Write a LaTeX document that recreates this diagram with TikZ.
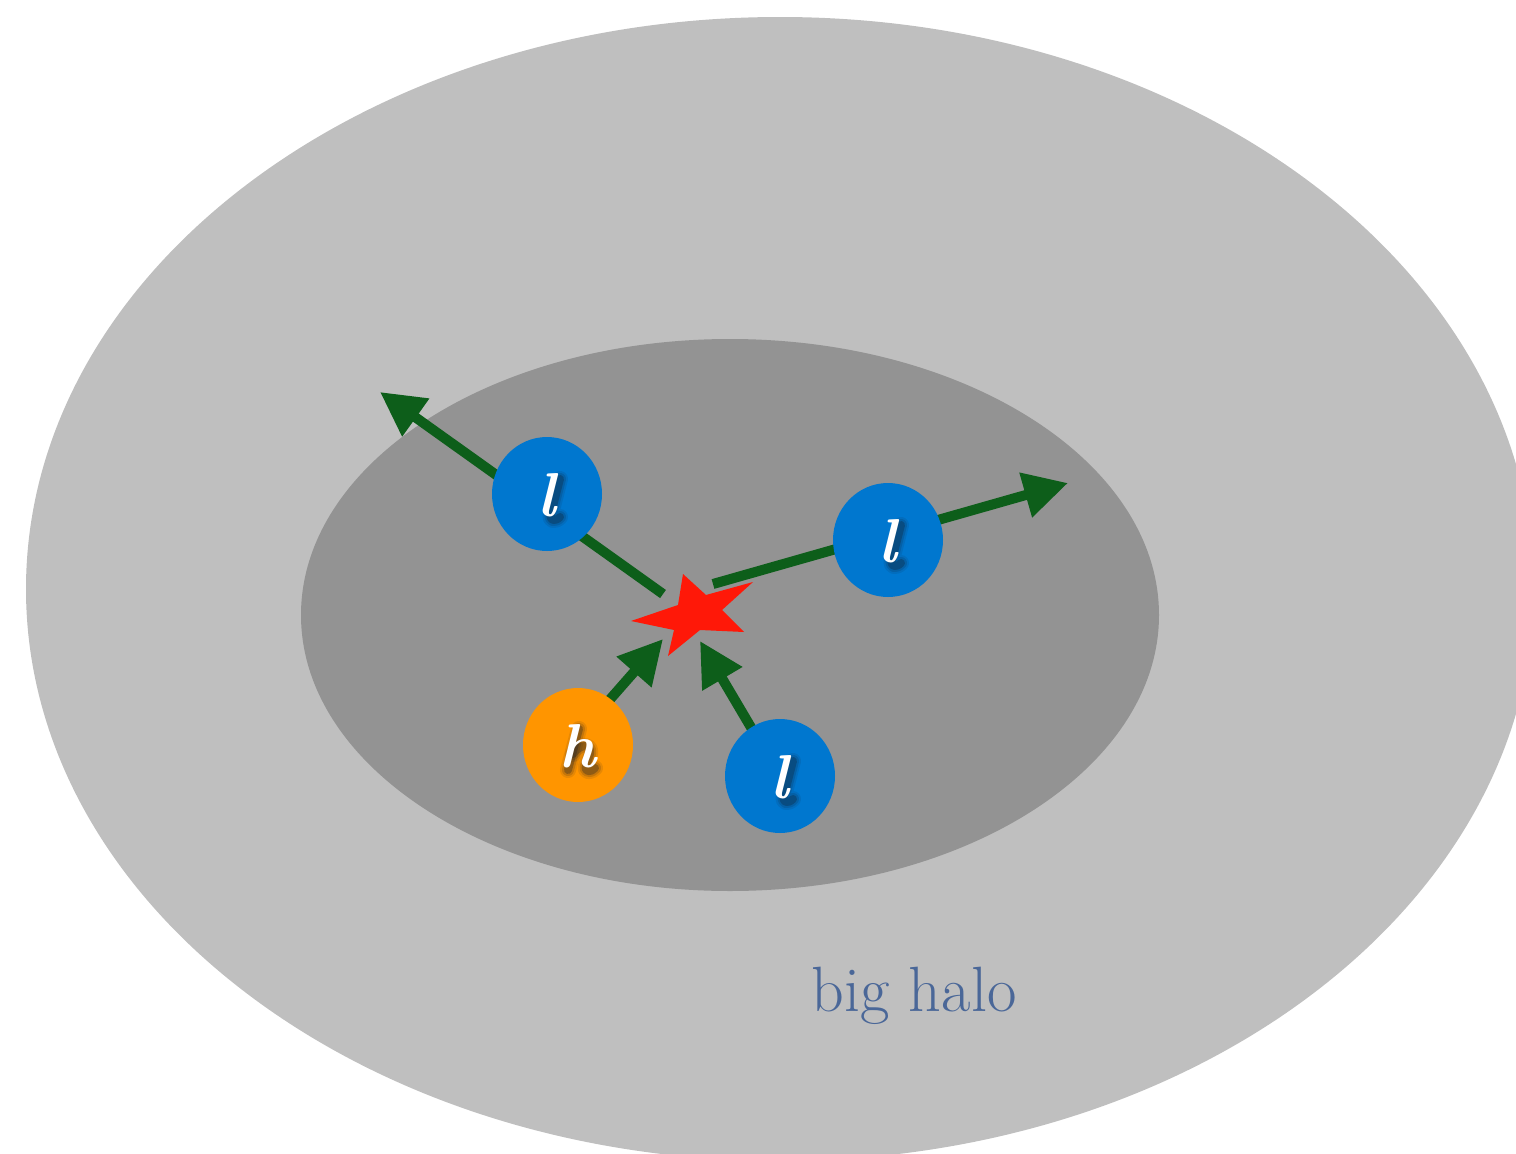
\documentclass[tikz,border=0pt]{standalone}
\usepackage{fontspec}
\usetikzlibrary{arrows.meta,shapes.geometric}

\definecolor{haloOuter}{RGB}{191,191,191}
\definecolor{haloInner}{RGB}{147,147,147}
\definecolor{ballBlue}{RGB}{0,119,207}
\definecolor{ballOrange}{RGB}{255,149,0}
\definecolor{flowGreen}{RGB}{13,94,26}
\definecolor{starRed}{RGB}{255,24,8}
\definecolor{captionBlue}{RGB}{74,103,152}
\definecolor{shadeDark}{RGB}{20,30,45}

\tikzset{
  ball/.style={ellipse, inner sep=0pt, minimum width=110pt, minimum height=114pt, draw=none},
  flow/.style={draw=flowGreen, line width=10pt, -{Triangle[length=44pt,width=44pt]}},
  ballletter/.style={anchor=base, inner sep=0pt, text=white,
    font=\fontsize{62}{62}\selectfont\bfseries\itshape},
  softshade/.style={draw=shadeDark, line cap=round, line join=round},
}

% soft drop shadow: the same stroke drawn wide and faint, then narrow and darker
\newcommand\softstroke[1]{%
  \draw[softshade, line width=16pt, draw opacity=0.10] #1;
  \draw[softshade, line width=12pt, draw opacity=0.16] #1;
  \draw[softshade, line width=8pt,  draw opacity=0.30] #1;
}
\newcommand\shadowL[1]{%
  \begin{scope}[shift={(#1.center)}]
    \softstroke{(13,-15) -- (4,20) .. controls (2,27) and (8,28) .. (13,23)}
  \end{scope}}
\newcommand\shadowH[1]{%
  \begin{scope}[shift={(#1.center)}]
    \softstroke{(1,-16) -- (-10,25)}
    \softstroke{(-5,9) .. controls (2,-1) and (14,-2) .. (12,9) -- (8,21) .. controls (6,27) and (13,28) .. (17,23)}
  \end{scope}}

\begin{document}
\begin{tikzpicture}[x=1pt,y=-1pt]
\useasboundingbox (0,0) rectangle (1516,1154);

% halos
\begin{scope}
  \clip (0,0) rectangle (1516,1154);
  \fill[haloOuter] (780,589) ellipse [x radius=754pt, y radius=572pt];
\end{scope}
\fill[haloInner] (730,615) ellipse [x radius=429pt, y radius=276pt];

% arrow end points
\coordinate (aS) at (663,594);
\coordinate (aT) at (380,392);
\coordinate (bS) at (713,584);
\coordinate (bT) at (1068,483);
\coordinate (cS) at (598,713);
\coordinate (cT) at (663,639);
\coordinate (dS) at (775,768);
\coordinate (dT) at (700,641);

\draw[flow] (aS) -- (aT);
\draw[flow] (bS) -- (bT);
\draw[flow] (cS) -- (cT);
\draw[flow] (dS) -- (dT);

% central star
\coordinate (core) at (692,614);
\fill[starRed] (683,574) -- (706,595) -- (753,582) -- (722,610) -- (744,632)
  -- (700,630) -- (668,656) -- (674,630) -- (631,621) -- (678,605) -- cycle;

% balls
\node[ball, fill=ballBlue]   (lA) at (547,494) {};
\node[ball, fill=ballBlue]   (lB) at (888,540) {};
\node[ball, fill=ballOrange] (hC) at (578,745) {};
\node[ball, fill=ballBlue]   (lD) at (780,776) {};

% letter shadows, then the letters
\shadowL{lA}
\shadowL{lB}
\shadowH{hC}
\shadowL{lD}

\node[ballletter] (tA) at ([shift={(0,22)}]lA.center) {l};
\node[ballletter] (tB) at ([shift={(0,22)}]lB.center) {l};
\node[ballletter] (tC) at ([shift={(0,22)}]hC.center) {h};
\node[ballletter] (tD) at ([shift={(0,22)}]lD.center) {l};

% caption
\node[anchor=base, inner sep=0pt, text=captionBlue,
      font=\fontsize{64}{64}\selectfont] (caption) at (914,1011) {big halo};
\end{tikzpicture}
\end{document}
